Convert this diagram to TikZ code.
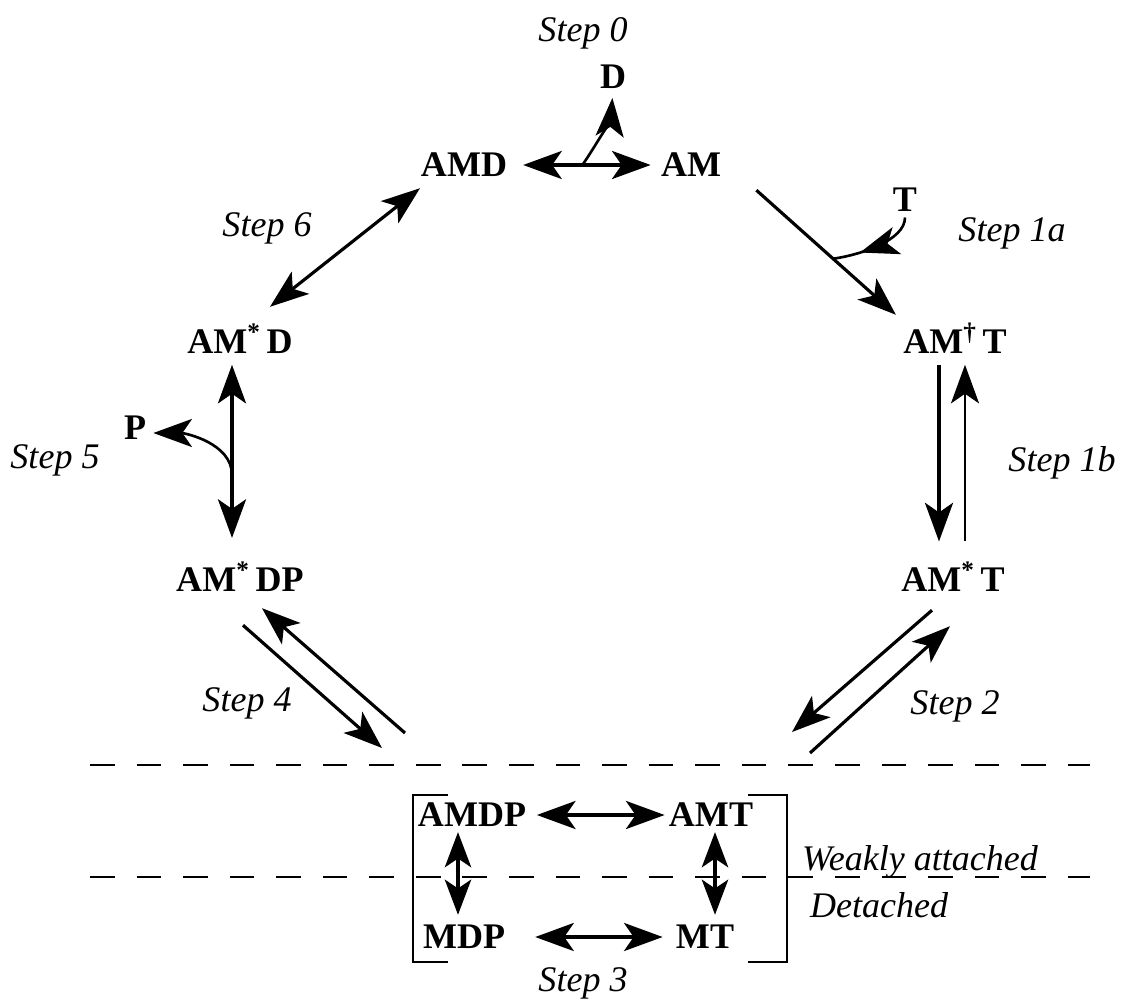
\documentclass[tikz,border=0pt]{standalone}
\usepackage{fontspec}
\setmainfont{Liberation Serif}
\usetikzlibrary{arrows.meta,decorations.markings}
\begin{document}
\begin{tikzpicture}[x=0.02cm,y=-0.02cm,
  >={Stealth[length=22pt,width=16pt,inset=5.5pt]},
  sp/.style={font=\fontsize{20.5}{24}\selectfont\bfseries, inner sep=0pt, text height=13.5pt, text depth=0pt},
  lbl/.style={font=\fontsize{20.5}{24}\selectfont\itshape, inner sep=0pt},
  lw/.style={line width=1.8pt},
  thinlw/.style={line width=1.1pt},
  curvelw/.style={line width=1.5pt},
  dline/.style={line width=1.6pt, dash pattern=on 14pt off 12.5pt},
  brk/.style={line width=1.6pt},
  midarrow/.style={postaction={decorate}, decoration={markings, mark=at position #1 with {\arrow{>}}}}
]
\useasboundingbox (0,0) rectangle (1129,1000);

% labels and species
\node[lbl] (step0) at (583,33) {Step 0};
\node[sp] (D) at (613,77) {D};
\node[sp] (AMD) at (464,165) {AMD};
\node[sp] (AM) at (691,165) {AM};
\node[sp] (T) at (905,200) {T};
\node[lbl] (step1a) at (1012,233) {Step 1a};
\node[lbl] (step6) at (267,228) {Step 6};
\node[sp] (AMdT) at (955,342) {AM\textsuperscript{†}\,T};
\node[sp] (AMsD) at (240,342) {AM\textsuperscript{*}\,D};
\node[lbl] (step1b) at (1062,463) {Step 1b};
\node[sp] (P) at (135,428) {P};
\node[lbl] (step5) at (55,460) {Step 5};
\node[sp] (AMsDP) at (240,580) {AM\textsuperscript{*}\,DP};
\node[sp] (AMsT) at (953,580) {AM\textsuperscript{*}\,T};
\node[lbl] (step4) at (247,703) {Step 4};
\node[lbl] (step2) at (955,706) {Step 2};
\node[sp] (AMDP) at (472,815) {AMDP};
\node[sp] (AMT) at (711,815) {AMT};
\node[sp] (MDP) at (464,937) {MDP};
\node[sp] (MT) at (705,937) {MT};
\node[lbl] (weak) at (920,862) {Weakly attached};
\node[lbl] (det) at (879,905) {Detached};
\node[lbl] (step3) at (583,983) {Step 3};

% step 0
\draw[<->, lw, shorten <=9pt, shorten >=5.7pt] (AMD.east) -- coordinate[pos=0.49] (dbr) (AM.west);
\draw[->, curvelw, shorten >=5pt] (dbr) .. controls +(15,-22) and +(-2,28) .. (D.south);

% step 1a
\draw[->, lw] ([shift={(35,13)}]AM.south east) -- coordinate[pos=0.55] (tj) ([shift={(-7,-15)}]AMdT.north west);
\draw[curvelw, midarrow=0.7, shorten <=3pt] (T.south) .. controls +(0,28) and +(28,-4) .. (tj);

% step 1b
\draw[->, lw, shorten <=6pt, shorten >=15pt] ([shift={(-16,0)}]AMdT.south) -- ([shift={(-14,0)}]AMsT.north);
\draw[->, thinlw, shorten <=15pt, shorten >=6pt] ([shift={(12,0)}]AMsT.north) -- ([shift={(10,0)}]AMdT.south);

% step 6
\draw[<->, lw] ([shift={(-44,11)}]AMD.south) -- ([shift={(30,-23)}]AMsD.north);

% step 5
\draw[<->, lw, shorten <=6pt, shorten >=17pt] ([shift={(-8,0)}]AMsD.south) -- coordinate[pos=0.565] (pbr) ([shift={(-8,0)}]AMsDP.north);
\draw[->, curvelw, shorten >=4pt] (pbr) .. controls +(0,-32) and +(38,0) .. ([shift={(0,5)}]P.east);

% step 4
\coordinate (s4a) at (382,748);
\coordinate (s4b) at (405,733);
\draw[->, lw] ([shift={(3,33)}]AMsDP.south) -- (s4a);
\draw[->, lw] (s4b) -- ([shift={(22,16)}]AMsDP.south);

% step 2
\coordinate (s2a) at (792,732);
\coordinate (s2b) at (810,753);
\draw[->, lw] ([shift={(-21,18)}]AMsT.south) -- (s2a);
\draw[->, lw] (s2b) -- ([shift={(-3,34)}]AMsT.south);

% dashed boundaries
\draw[dline] (90,765) -- (1090,765);
\draw[dline] (90,877) -- (1090,877);

% step 3 box
\draw[brk] (448,795) -- (413,795) -- (413,962) -- (448,962);
\draw[brk] (748,795) -- (787,795) -- (787,962) -- (748,962);
\draw[<->, lw, shorten <=6pt, shorten >=2.3pt] (AMDP.east) -- (AMT.west);
\draw[<->, lw, shorten <=17pt, shorten >=7.4pt] (MDP.east) -- (MT.west);
\draw[<->, lw, >={Stealth[length=20pt,width=15pt,inset=5pt]}, shorten <=2.8pt, shorten >=5.7pt] ([shift={(-14,0)}]AMDP.south) -- ([shift={(-6,0)}]MDP.north);
\draw[<->, lw, >={Stealth[length=20pt,width=15pt,inset=5pt]}, shorten <=2.8pt, shorten >=5.7pt] ([shift={(4,0)}]AMT.south) -- ([shift={(10,0)}]MT.north);
\end{tikzpicture}
\end{document}
